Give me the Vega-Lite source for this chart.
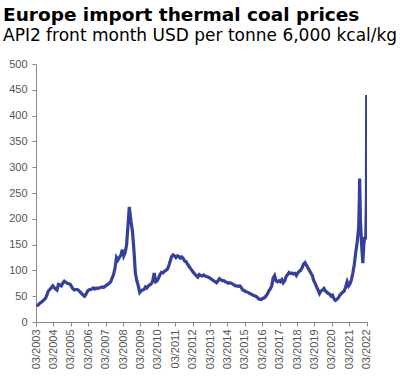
{
  "$schema": "https://vega.github.io/schema/vega-lite/v6.json",
  "width": 331,
  "height": 258,
  "autosize": {"type": "none"},
  "padding": {"left": 36, "top": 64, "right": 40, "bottom": 69},
  "background": "white",
  "title": {
    "text": "Europe import thermal coal prices",
    "subtitle": "API2 front month USD per tonne 6,000 kcal/kg",
    "anchor": "start",
    "frame": "group",
    "dx": -33,
    "offset": 14,
    "font": "DejaVu Sans",
    "fontSize": 18.5,
    "fontWeight": "bold",
    "color": "#000000",
    "subtitleFont": "DejaVu Sans",
    "subtitleFontSize": 17,
    "subtitleColor": "#000000",
    "subtitlePadding": 4
  },
  "config": {"view": {"stroke": null}},
  "data": {
    "values": [
      {"d": "2003-03-15", "p": 31}, {"d": "2003-04-15", "p": 33}, {"d": "2003-05-15", "p": 36}, {"d": "2003-06-15", "p": 38},
      {"d": "2003-07-15", "p": 40}, {"d": "2003-08-15", "p": 43}, {"d": "2003-09-15", "p": 46}, {"d": "2003-10-15", "p": 52},
      {"d": "2003-11-15", "p": 60}, {"d": "2003-12-15", "p": 63},
      {"d": "2004-01-15", "p": 66}, {"d": "2004-02-15", "p": 70}, {"d": "2004-03-15", "p": 67}, {"d": "2004-04-15", "p": 64},
      {"d": "2004-05-15", "p": 62}, {"d": "2004-06-15", "p": 73}, {"d": "2004-07-15", "p": 72}, {"d": "2004-08-15", "p": 70},
      {"d": "2004-09-15", "p": 76}, {"d": "2004-10-15", "p": 79}, {"d": "2004-11-15", "p": 77}, {"d": "2004-12-15", "p": 75},
      {"d": "2005-01-15", "p": 74}, {"d": "2005-02-15", "p": 73}, {"d": "2005-03-15", "p": 69}, {"d": "2005-04-15", "p": 64},
      {"d": "2005-05-15", "p": 62}, {"d": "2005-06-15", "p": 63}, {"d": "2005-07-15", "p": 63}, {"d": "2005-08-15", "p": 61},
      {"d": "2005-09-15", "p": 58}, {"d": "2005-10-15", "p": 55}, {"d": "2005-11-15", "p": 52}, {"d": "2005-12-15", "p": 50},
      {"d": "2006-01-15", "p": 54}, {"d": "2006-02-15", "p": 60}, {"d": "2006-03-15", "p": 62}, {"d": "2006-04-15", "p": 63},
      {"d": "2006-05-15", "p": 64}, {"d": "2006-06-15", "p": 66}, {"d": "2006-07-15", "p": 64}, {"d": "2006-08-15", "p": 66},
      {"d": "2006-09-15", "p": 65}, {"d": "2006-10-15", "p": 66}, {"d": "2006-11-15", "p": 67}, {"d": "2006-12-15", "p": 68},
      {"d": "2007-01-15", "p": 67}, {"d": "2007-02-15", "p": 69}, {"d": "2007-03-15", "p": 71}, {"d": "2007-04-15", "p": 73},
      {"d": "2007-05-15", "p": 75}, {"d": "2007-06-15", "p": 78}, {"d": "2007-07-15", "p": 85}, {"d": "2007-08-15", "p": 92},
      {"d": "2007-09-15", "p": 105}, {"d": "2007-10-15", "p": 125}, {"d": "2007-11-15", "p": 120}, {"d": "2007-12-15", "p": 125},
      {"d": "2008-01-15", "p": 130}, {"d": "2008-02-15", "p": 140}, {"d": "2008-03-15", "p": 128}, {"d": "2008-04-15", "p": 135},
      {"d": "2008-05-15", "p": 150}, {"d": "2008-06-15", "p": 190}, {"d": "2008-07-10", "p": 223}, {"d": "2008-08-15", "p": 195},
      {"d": "2008-09-15", "p": 175}, {"d": "2008-10-15", "p": 140}, {"d": "2008-11-15", "p": 95}, {"d": "2008-12-15", "p": 80},
      {"d": "2009-01-15", "p": 70}, {"d": "2009-02-15", "p": 57}, {"d": "2009-03-15", "p": 60}, {"d": "2009-04-15", "p": 62},
      {"d": "2009-05-15", "p": 63}, {"d": "2009-06-15", "p": 68}, {"d": "2009-07-15", "p": 66}, {"d": "2009-08-15", "p": 70},
      {"d": "2009-09-15", "p": 72}, {"d": "2009-10-15", "p": 74}, {"d": "2009-11-15", "p": 80}, {"d": "2009-12-15", "p": 95},
      {"d": "2010-01-15", "p": 78}, {"d": "2010-02-15", "p": 80}, {"d": "2010-03-15", "p": 85}, {"d": "2010-04-15", "p": 92},
      {"d": "2010-05-15", "p": 96}, {"d": "2010-06-15", "p": 95}, {"d": "2010-07-15", "p": 98}, {"d": "2010-08-15", "p": 100},
      {"d": "2010-09-15", "p": 102}, {"d": "2010-10-15", "p": 108}, {"d": "2010-11-15", "p": 118}, {"d": "2010-12-15", "p": 127},
      {"d": "2011-01-15", "p": 130}, {"d": "2011-02-15", "p": 128}, {"d": "2011-03-15", "p": 125}, {"d": "2011-04-15", "p": 128},
      {"d": "2011-05-15", "p": 127}, {"d": "2011-06-15", "p": 124}, {"d": "2011-07-15", "p": 126}, {"d": "2011-08-15", "p": 123},
      {"d": "2011-09-15", "p": 118}, {"d": "2011-10-15", "p": 117}, {"d": "2011-11-15", "p": 112}, {"d": "2011-12-15", "p": 108},
      {"d": "2012-01-15", "p": 104}, {"d": "2012-02-15", "p": 100}, {"d": "2012-03-15", "p": 96}, {"d": "2012-04-15", "p": 93},
      {"d": "2012-05-15", "p": 90}, {"d": "2012-06-15", "p": 87}, {"d": "2012-07-15", "p": 92}, {"d": "2012-08-15", "p": 90},
      {"d": "2012-09-15", "p": 89}, {"d": "2012-10-15", "p": 91}, {"d": "2012-11-15", "p": 89}, {"d": "2012-12-15", "p": 88},
      {"d": "2013-01-15", "p": 87}, {"d": "2013-02-15", "p": 86}, {"d": "2013-03-15", "p": 84}, {"d": "2013-04-15", "p": 82},
      {"d": "2013-05-15", "p": 80}, {"d": "2013-06-15", "p": 78}, {"d": "2013-07-15", "p": 76}, {"d": "2013-08-15", "p": 80},
      {"d": "2013-09-15", "p": 84}, {"d": "2013-10-15", "p": 82}, {"d": "2013-11-15", "p": 80}, {"d": "2013-12-15", "p": 80},
      {"d": "2014-01-15", "p": 78}, {"d": "2014-02-15", "p": 77}, {"d": "2014-03-15", "p": 75}, {"d": "2014-04-15", "p": 76},
      {"d": "2014-05-15", "p": 75}, {"d": "2014-06-15", "p": 74}, {"d": "2014-07-15", "p": 72}, {"d": "2014-08-15", "p": 70},
      {"d": "2014-09-15", "p": 70}, {"d": "2014-10-15", "p": 69}, {"d": "2014-11-15", "p": 70}, {"d": "2014-12-15", "p": 67},
      {"d": "2015-01-15", "p": 62}, {"d": "2015-02-15", "p": 61}, {"d": "2015-03-15", "p": 59}, {"d": "2015-04-15", "p": 58},
      {"d": "2015-05-15", "p": 57}, {"d": "2015-06-15", "p": 55}, {"d": "2015-07-15", "p": 54}, {"d": "2015-08-15", "p": 52},
      {"d": "2015-09-15", "p": 51}, {"d": "2015-10-15", "p": 50}, {"d": "2015-11-15", "p": 48}, {"d": "2015-12-15", "p": 45},
      {"d": "2016-01-15", "p": 44}, {"d": "2016-02-15", "p": 44}, {"d": "2016-03-15", "p": 46}, {"d": "2016-04-15", "p": 47},
      {"d": "2016-05-15", "p": 50}, {"d": "2016-06-15", "p": 54}, {"d": "2016-07-15", "p": 60}, {"d": "2016-08-15", "p": 64},
      {"d": "2016-09-15", "p": 70}, {"d": "2016-10-15", "p": 85}, {"d": "2016-11-15", "p": 90}, {"d": "2016-12-15", "p": 80},
      {"d": "2017-01-15", "p": 78}, {"d": "2017-02-15", "p": 80}, {"d": "2017-03-15", "p": 78}, {"d": "2017-04-15", "p": 82},
      {"d": "2017-05-15", "p": 76}, {"d": "2017-06-15", "p": 80}, {"d": "2017-07-15", "p": 88}, {"d": "2017-08-15", "p": 92},
      {"d": "2017-09-15", "p": 96}, {"d": "2017-10-15", "p": 94}, {"d": "2017-11-15", "p": 95}, {"d": "2017-12-15", "p": 93},
      {"d": "2018-01-15", "p": 94}, {"d": "2018-02-15", "p": 90}, {"d": "2018-03-15", "p": 95}, {"d": "2018-04-15", "p": 98},
      {"d": "2018-05-15", "p": 100}, {"d": "2018-06-15", "p": 105}, {"d": "2018-07-15", "p": 112}, {"d": "2018-08-15", "p": 115},
      {"d": "2018-09-15", "p": 110}, {"d": "2018-10-15", "p": 105}, {"d": "2018-11-15", "p": 100}, {"d": "2018-12-15", "p": 95},
      {"d": "2019-01-15", "p": 90}, {"d": "2019-02-15", "p": 80}, {"d": "2019-03-15", "p": 75}, {"d": "2019-04-15", "p": 68},
      {"d": "2019-05-15", "p": 62}, {"d": "2019-06-15", "p": 55}, {"d": "2019-07-15", "p": 60}, {"d": "2019-08-15", "p": 62},
      {"d": "2019-09-15", "p": 65}, {"d": "2019-10-15", "p": 60}, {"d": "2019-11-15", "p": 58}, {"d": "2019-12-15", "p": 55},
      {"d": "2020-01-15", "p": 54}, {"d": "2020-02-15", "p": 50}, {"d": "2020-03-15", "p": 52}, {"d": "2020-04-15", "p": 45},
      {"d": "2020-05-15", "p": 42}, {"d": "2020-06-15", "p": 44}, {"d": "2020-07-15", "p": 47}, {"d": "2020-08-15", "p": 52},
      {"d": "2020-09-15", "p": 55}, {"d": "2020-10-15", "p": 58}, {"d": "2020-11-15", "p": 60}, {"d": "2020-12-15", "p": 68},
      {"d": "2021-01-15", "p": 78}, {"d": "2021-02-15", "p": 70}, {"d": "2021-03-15", "p": 74}, {"d": "2021-04-15", "p": 82},
      {"d": "2021-05-15", "p": 95}, {"d": "2021-06-15", "p": 112}, {"d": "2021-07-15", "p": 135}, {"d": "2021-08-15", "p": 155},
      {"d": "2021-09-15", "p": 185}, {"d": "2021-09-28", "p": 240}, {"d": "2021-10-05", "p": 278}, {"d": "2021-10-20", "p": 200},
      {"d": "2021-11-15", "p": 150}, {"d": "2021-12-10", "p": 114}, {"d": "2021-12-31", "p": 150}, {"d": "2022-01-20", "p": 165},
      {"d": "2022-02-10", "p": 160}, {"d": "2022-02-24", "p": 240}, {"d": "2022-03-02", "p": 440}, {"d": "2022-03-07", "p": 165}
    ]
  },
  "mark": {"type": "line", "color": "#34409a", "strokeWidth": 3.2, "clip": true},
  "encoding": {
    "x": {
      "field": "d",
      "type": "temporal",
      "scale": {"type": "utc", "domain": ["2003-03-01", "2022-03-08"]},
      "axis": {
        "title": null,
        "values": [
          {"year": 2003, "month": 3, "date": 1, "utc": true}, {"year": 2004, "month": 3, "date": 1, "utc": true},
          {"year": 2005, "month": 3, "date": 1, "utc": true}, {"year": 2006, "month": 3, "date": 1, "utc": true},
          {"year": 2007, "month": 3, "date": 1, "utc": true}, {"year": 2008, "month": 3, "date": 1, "utc": true},
          {"year": 2009, "month": 3, "date": 1, "utc": true}, {"year": 2010, "month": 3, "date": 1, "utc": true},
          {"year": 2011, "month": 3, "date": 1, "utc": true}, {"year": 2012, "month": 3, "date": 1, "utc": true},
          {"year": 2013, "month": 3, "date": 1, "utc": true}, {"year": 2014, "month": 3, "date": 1, "utc": true},
          {"year": 2015, "month": 3, "date": 1, "utc": true}, {"year": 2016, "month": 3, "date": 1, "utc": true},
          {"year": 2017, "month": 3, "date": 1, "utc": true}, {"year": 2018, "month": 3, "date": 1, "utc": true},
          {"year": 2019, "month": 3, "date": 1, "utc": true}, {"year": 2020, "month": 3, "date": 1, "utc": true},
          {"year": 2021, "month": 3, "date": 1, "utc": true}, {"year": 2022, "month": 3, "date": 1, "utc": true}
        ],
        "format": "%m/%Y",
        "labelAngle": -90,
        "labelAlign": "right",
        "labelBaseline": "middle",
        "labelFont": "Liberation Sans",
        "labelFontSize": 11,
        "labelColor": "#555555",
        "labelPadding": 3,
        "labelOverlap": false,
        "labelFlush": false,
        "domainColor": "#888888",
        "tickColor": "#888888",
        "tickSize": 4,
        "grid": false
      }
    },
    "y": {
      "field": "p",
      "type": "quantitative",
      "scale": {"domain": [0, 500]},
      "axis": {
        "title": null,
        "values": [0, 50, 100, 150, 200, 250, 300, 350, 400, 450, 500],
        "labelFont": "Liberation Sans",
        "labelFontSize": 11,
        "labelColor": "#555555",
        "labelPadding": 5,
        "domainColor": "#888888",
        "tickColor": "#888888",
        "tickSize": 4,
        "grid": false
      }
    }
  }
}
